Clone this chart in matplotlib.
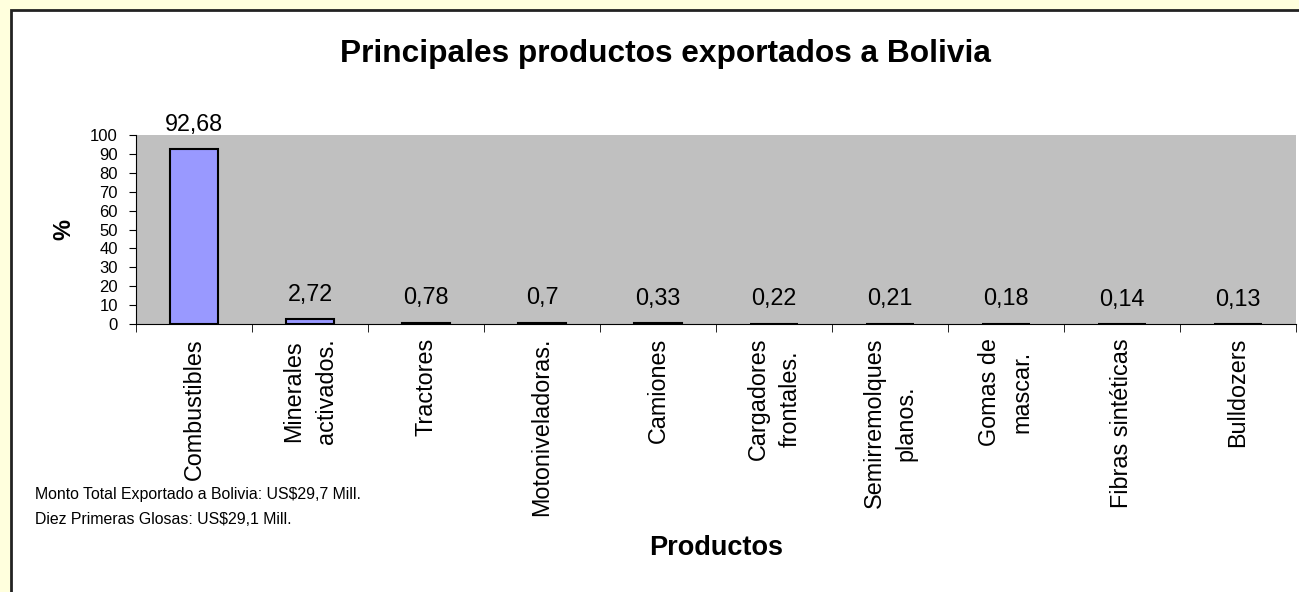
import matplotlib
matplotlib.use("Agg")
import matplotlib.pyplot as plt
from matplotlib.patches import Rectangle

plt.rcParams['font.family'] = ['Liberation Sans', 'DejaVu Sans']

# datos del grafico
productos = ["Combustibles", "Minerales\nactivados.", "Tractores", "Motoniveladoras.",
             "Camiones", "Cargadores\nfrontales.", "Semirremolques\nplanos.",
             "Gomas de\nmascar.", "Fibras sintéticas", "Bulldozers"]
porcentajes = [92.68, 2.72, 0.78, 0.7, 0.33, 0.22, 0.21, 0.18, 0.14, 0.13]
etiquetas = ["92,68", "2,72", "0,78", "0,7", "0,33", "0,22", "0,21", "0,18", "0,14", "0,13"]
yticks = list(range(0, 101, 10))

W, H = 1299, 592
fig = plt.figure(figsize=(W / 100, H / 100), dpi=100)
fig.patch.set_facecolor("#FFFFDD")

# marco blanco del grafico
fig.patches.append(Rectangle((11 / W, -0.1), 1.2, 1 - 10 / H + 0.1, transform=fig.transFigure,
                             facecolor="white", edgecolor="#222222", linewidth=2, zorder=-5))

ax = fig.add_axes([136 / W, 1 - 324 / H, (1296 - 136) / W, (324 - 135) / H])
ax.set_facecolor("#C0C0C0")

x = list(range(len(productos)))
ax.bar(x, porcentajes, width=0.41, color="#9999FF", edgecolor="black", linewidth=1.5, zorder=2)

for xi, v, t in zip(x, porcentajes, etiquetas):
    ax.annotate(t, (xi, v), xytext=(0, 9.5), textcoords="offset points",
                ha="center", va="bottom", fontsize=16.8)

ax.set_xlim(-0.5, len(productos) - 0.5)
ax.set_ylim(0, 100)
ax.set_yticks(yticks)
ax.set_yticklabels([str(v) for v in yticks], fontsize=12)
ax.tick_params(axis="y", direction="out", length=5, pad=8)

ax.set_xticks(x)
ax.set_xticklabels(productos, rotation=90, fontsize=16.8, va="top", ha="center",
                   multialignment="center", linespacing=1.5)
ax.tick_params(axis="x", which="major", length=0, pad=10)
ax.set_xticks([i - 0.5 for i in range(len(productos) + 1)], minor=True)
ax.tick_params(axis="x", which="minor", direction="out", length=6)

for s in ["top", "right"]:
    ax.spines[s].set_visible(False)

ax.set_ylabel("%", fontsize=17, fontweight="bold", labelpad=11)

fig.text(666 / W, 1 - 54 / H, "Principales productos exportados a Bolivia",
         ha="center", va="center", fontsize=22.8, fontweight="bold")
fig.text(716 / W, 1 - 548 / H, "Productos", ha="center", va="center",
         fontsize=19.5, fontweight="bold")
fig.text(35 / W, 1 - 495 / H, "Monto Total Exportado a Bolivia: US$29,7 Mill.",
         ha="left", va="center", fontsize=11.4)
fig.text(35 / W, 1 - 520 / H, "Diez Primeras Glosas: US$29,1 Mill.",
         ha="left", va="center", fontsize=11.4)

fig.savefig("out.png", dpi=100, facecolor=fig.get_facecolor())
